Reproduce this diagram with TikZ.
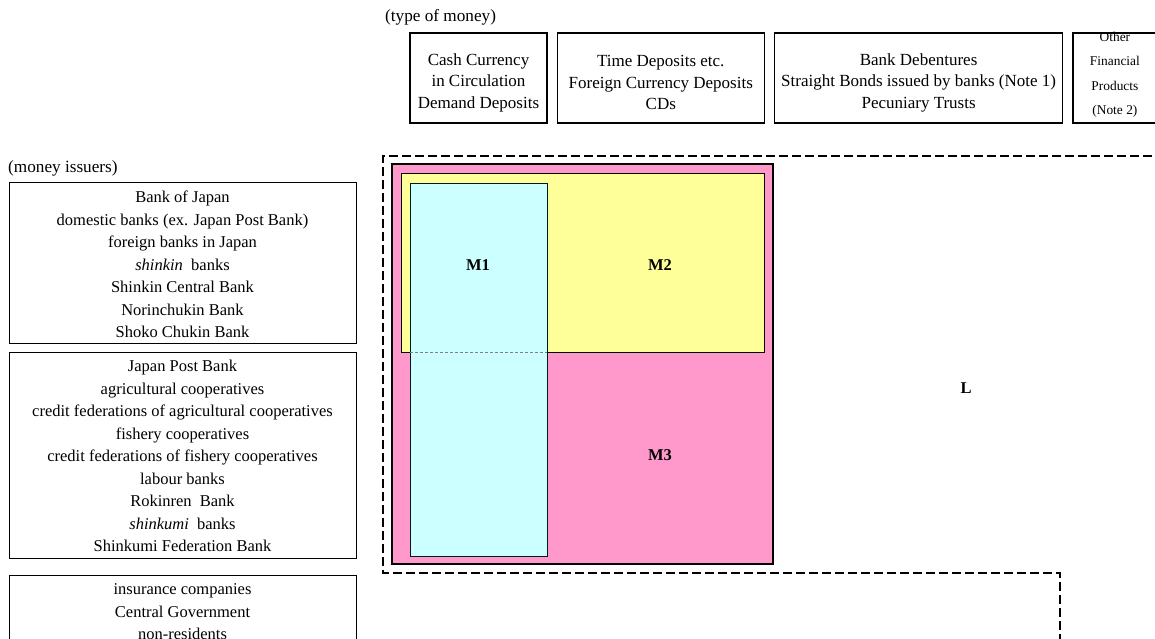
\documentclass[tikz,border=0pt]{standalone}
\usepackage{fontspec}
\setmainfont{Liberation Serif}
\usetikzlibrary{positioning}
\definecolor{pinkM}{HTML}{FF99CC}
\definecolor{yellowM}{HTML}{FFFF99}
\definecolor{cyanM}{HTML}{CCFFFF}

\begin{document}
\begin{tikzpicture}[x=1pt,y=-1pt,
  typebox/.style={draw,line width=1.3pt,inner sep=0pt,minimum height=90pt},
  typetext/.style={align=center,inner sep=0pt,font=\fontsize{17}{21.5}\selectfont},
  issuerbox/.style={draw,line width=1pt,inner sep=0pt,minimum width=347pt},
  issuertext/.style={align=center,inner sep=0pt,font=\fontsize{16.5}{22.5}\selectfont},
  headlabel/.style={anchor=west,inner sep=0pt,font=\fontsize{17.2}{20}\selectfont},
  moneylabel/.style={font=\fontsize{16.5}{19}\selectfont\bfseries}]
\useasboundingbox (0,0) rectangle (1155,638);
\clip (0,0) rectangle (1155,638);

% type of money
\node[headlabel] (typehead) at (385,17) {(type of money)};
\node[typebox,minimum width=137pt] (cash) at (478.5,78) {};
\node[typebox,minimum width=207pt,right=9pt of cash] (time) {};
\node[typebox,minimum width=288pt,right=9pt of time] (debent) {};
\node[typebox,minimum width=84pt,right=9pt of debent] (other) {};
\node[typetext] (cashtext) at ([yshift=-4.5pt]cash.center) {Cash Currency\\ in Circulation\\Demand Deposits};
\node[typetext] (timetext) at ([yshift=-4.5pt]time.center) {Time Deposits etc.\\Foreign Currency Deposits\\CDs};
\node[typetext] (debenttext) at ([yshift=-4.5pt]debent.center) {Bank Debentures\\Straight Bonds issued by banks (Note 1)\\Pecuniary Trusts};
\node[typetext,font=\fontsize{13.4}{24.5}\selectfont] (othertext) at ([yshift=3pt]other.center) {Other\\Financial\\Products\\(Note 2)};

% money issuers
\node[headlabel] (issuerhead) at (8,168) {(money issuers)};
\node[issuerbox,minimum height=161pt] (banks) at (182.5,262.5) {};
\node[issuerbox,minimum height=206pt,below=8pt of banks] (coops) {};
\node[issuerbox,minimum height=74pt,below=16pt of coops] (others) {};
\node[issuertext] (bankstext) at ([yshift=-2pt]banks.center)
  {Bank of Japan\\domestic banks (ex. Japan Post Bank)\\foreign banks in Japan\\\textit{shinkin}\ \ banks\\Shinkin Central Bank\\Norinchukin Bank\\Shoko Chukin Bank};
\node[issuertext] (coopstext) at ([yshift=-1pt]coops.center)
  {Japan Post Bank\\agricultural cooperatives\\credit federations of agricultural cooperatives\\fishery cooperatives\\credit federations of fishery cooperatives\\labour banks\\Rokinren\ \ Bank\\\textit{shinkumi}\ \ banks\\Shinkumi Federation Bank};
\node[issuertext] (otherstext) at (others.center)
  {insurance companies\\Central Government\\non-residents};

% monetary aggregates
\draw[line width=1.6pt,dash pattern=on 9pt off 4pt] (1165,156) -- (383,156) -- (383,573) -- (1060,573) -- (1060,650);
\filldraw[fill=pinkM,line width=1.6pt] (392,164) rectangle (773,564);
\filldraw[fill=yellowM,line width=1pt] (401,173) rectangle (764,352);
\filldraw[fill=cyanM,draw=black!80!teal,line width=0.8pt] (410,183) rectangle (547,556);
\draw[gray,line width=1pt,densely dashed] (410,352) -- (547,352);
\node[moneylabel] (m1) at (478,265) {M1};
\node[moneylabel] (m2) at (660,265) {M2};
\node[moneylabel] (m3) at (660,455) {M3};
\node[moneylabel] (l) at (966,388) {L};
\end{tikzpicture}
\end{document}
